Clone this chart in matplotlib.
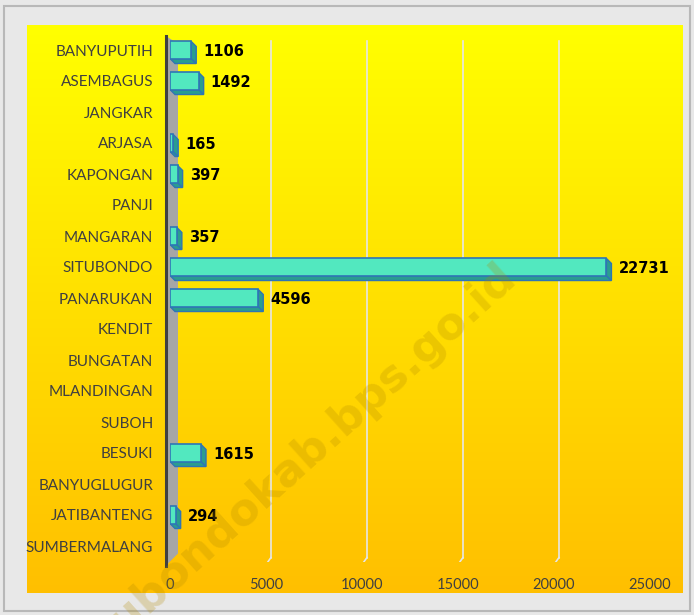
import numpy as np
import matplotlib.pyplot as plt
from matplotlib.patches import Polygon, Rectangle

kecamatan = ['BANYUPUTIH', 'ASEMBAGUS', 'JANGKAR', 'ARJASA', 'KAPONGAN', 'PANJI',
             'MANGARAN', 'SITUBONDO', 'PANARUKAN', 'KENDIT', 'BUNGATAN', 'MLANDINGAN',
             'SUBOH', 'BESUKI', 'BANYUGLUGUR', 'JATIBANTENG', 'SUMBERMALANG']
nilai = [1106, 1492, 0, 165, 397, 0, 357, 22731, 4596, 0, 0, 0, 0, 1615, 0, 294, 0]
xticks = [0, 5000, 10000, 15000, 20000, 25000]

W, H = 694, 615
fig = plt.figure(figsize=(W / 100, H / 100), dpi=100)
fig.patch.set_facecolor('#e8e8e8')
fig.patches.append(Rectangle((4 / W, 4 / H), (W - 8) / W, (H - 10) / H, transform=fig.transFigure,
                             fill=False, edgecolor='#b8b8b8', lw=1.5))

# gradient background (yellow -> orange)
bg = fig.add_axes([27 / W, (H - 593) / H, (683 - 27) / W, (593 - 25) / H])
grad = np.linspace(0, 1, 256).reshape(-1, 1)
top = np.array([1.0, 1.0, 0.0])
bot = np.array([1.0, 0.75, 0.0])
img = top[None, None, :] * (1 - grad[:, :, None]) + bot[None, None, :] * grad[:, :, None]
bg.imshow(img, aspect='auto', extent=[0, 1, 0, 1])
bg.axis('off')

ax = fig.add_axes([170 / W, (H - 561.5) / H, 480 / W, 527 / H])
ax.patch.set_alpha(0)
n = len(kecamatan)
y = np.arange(n)
ax.set_xlim(0, 25000)
ax.set_ylim(n - 0.5, -0.5)

px = 25000 / 480  # data units per pixel in x
py = 17 / 527     # data units per pixel in y

# gridlines (back wall, slightly shifted)
for t in xticks[1:]:
    ax.plot([t + 5 * px, t + 5 * px], [-0.3, n - 0.5 - 4 * py], color='#e6e6e6', lw=1.2, zorder=1)
    ax.plot([t + 5 * px, t], [n - 0.5 - 4 * py, n - 0.5 + 3 * py], color='#e6e6e6', lw=1.2, zorder=1)

# side wall
wall = Polygon([(-4 * px, -0.45), (8 * px, -0.2), (8 * px, n - 0.5 - 8 * py), (-4 * px, n - 0.5 + 4 * py)],
               closed=True, facecolor='#a6a6a6', edgecolor='none', zorder=2, clip_on=False)
ax.add_patch(wall)
ax.plot([-4 * px, -4 * px], [-0.45, n - 0.5 + 4 * py], color='#404040', lw=2.2, zorder=3, clip_on=False)

bh = 0.55
d = 5
for yi, v in zip(y, nilai):
    if v <= 0:
        continue
    y0 = yi - bh / 2
    y1 = yi + bh / 2
    # depth faces to the lower right
    side = Polygon([(v, y0), (v + d * px, y0 + d * py), (v + d * px, y1 + d * py), (v, y1)],
                   closed=True, facecolor='#2a9d8f', edgecolor='#2e75b6', lw=1, zorder=4)
    bottom = Polygon([(0, y1), (v, y1), (v + d * px, y1 + d * py), (d * px, y1 + d * py)],
                     closed=True, facecolor='#2a9d8f', edgecolor='#2e75b6', lw=1, zorder=4)
    ax.add_patch(bottom)
    ax.add_patch(side)
    ax.add_patch(Rectangle((0, y0), v, bh, facecolor='#52e8bf', edgecolor='#2e75b6', lw=1.2, zorder=5))
    ax.text(v + 12 * px, yi + 0.05, str(v), ha='left', va='center', fontsize=10.5,
            fontweight='bold', color='black', zorder=6)

ax.set_yticks(y)
ax.set_yticklabels(kecamatan, fontsize=11, color='#404040', family='Lato')
ax.set_xticks(xticks)
ax.set_xticklabels([str(t) for t in xticks], fontsize=10.5, color='#404040', family='Lato')
ax.tick_params(axis='y', length=0, pad=12)
ax.tick_params(axis='x', length=0, pad=12)
for s in ax.spines.values():
    s.set_visible(False)

# watermark
fig.text(290 / W, 1 - 470 / H, 'situbondokab.bps.go.id', rotation=42, ha='center', va='center',
         fontsize=32, fontweight='bold', color='#b08800', alpha=0.25, zorder=10)

fig.savefig('out.png', dpi=100, facecolor=fig.get_facecolor())
